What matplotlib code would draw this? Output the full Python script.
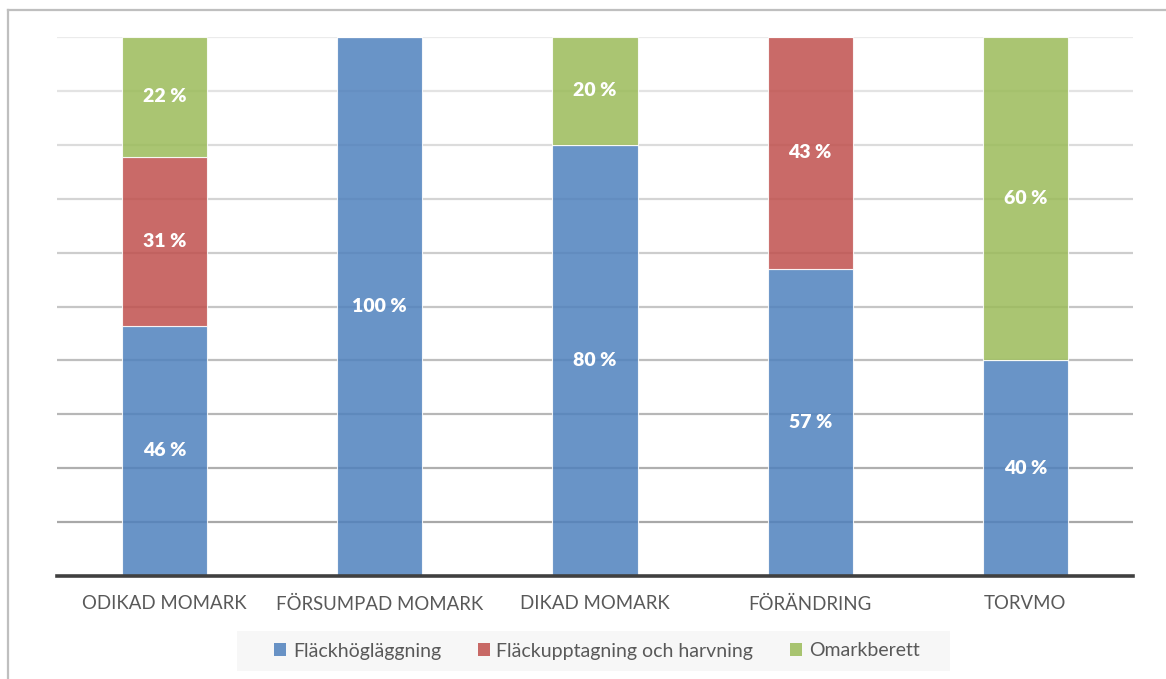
import numpy as np
import matplotlib.pyplot as plt
from matplotlib.patches import Patch, Rectangle
from matplotlib.lines import Line2D

plt.rcParams['font.family'] = ['Lato', 'DejaVu Sans']

# ---------------- data ----------------
categories = ["ODIKAD MOMARK", "FÖRSUMPAD MOMARK", "DIKAD MOMARK", "FÖRÄNDRING", "TORVMO"]
series_names = ["Fläckhögläggning", "Fläckupptagning och harvning", "Omarkberett"]
hoglaggning = [46.4, 100, 80, 57, 40]
upptagning = [31.4, 0, 0, 43, 0]
omarkberett = [22.2, 0, 20, 0, 60]
colors = ["#4F81BD", "#C0504D", "#9BBB59"]

W, H = 1166, 679

# ---------------- plot ----------------
fig = plt.figure(figsize=(W/100, H/100), dpi=100)
ax = fig.add_axes([57/W, 1 - 576/H, (1133 - 57)/W, (576 - 37)/H])

x = np.arange(len(categories))
width = 0.395

# gridlines get darker towards the bottom
levels = np.arange(10, 101, 10)
for lv in levels:
    g = 0.92 - (0.92 - 0.63) * (1 - lv/100)
    ax.axhline(lv, color=(g, g, g), lw=1.6, zorder=1)

bottom = np.zeros(len(categories))
for name, vals, col in zip(series_names, [hoglaggning, upptagning, omarkberett], colors):
    vals = np.array(vals, dtype=float)
    ax.bar(x, vals, width, bottom=bottom, color=col, alpha=0.85,
           edgecolor=(1, 1, 1, 0.6), linewidth=0.8, zorder=2)
    for xi, b, v in zip(x, bottom, vals):
        if v > 0:
            ax.text(xi, b + v/2, f"{v:.0f} %", ha="center", va="center",
                    color="white", fontsize=14, fontweight="heavy", zorder=3)
    bottom += vals

ax.set_xlim(-0.5, len(categories) - 0.5)
ax.set_ylim(0, 100)
ax.set_yticks([])
ax.set_xticks(x)
ax.set_xticklabels(categories, fontsize=13.4, color="#595959")
ax.tick_params(axis="x", length=0, pad=14)
for s in ["top", "right", "left"]:
    ax.spines[s].set_visible(False)
ax.spines["bottom"].set_color("#404040")
ax.spines["bottom"].set_linewidth(2.6)
ax.spines["bottom"].set_zorder(4)

# legend on a light grey panel
fig.add_artist(Rectangle((237/W, 1 - 671/H), (950 - 237)/W, 40/H,
                         transform=fig.transFigure, facecolor="#F7F7F7", edgecolor="none", zorder=0))
handles = [Patch(facecolor=c, alpha=0.85, edgecolor="none") for c in colors]
leg = fig.legend(handles, series_names, loc="center", bbox_to_anchor=(597/W, 1 - 651/H),
                 ncol=3, frameon=False, fontsize=14, handlelength=0.6, handleheight=0.6,
                 handletextpad=0.35, columnspacing=1.9)
for t in leg.get_texts():
    t.set_color("#595959")

# chart area border (top and left)
fig.add_artist(Line2D([8/W, 1], [1 - 10/H, 1 - 10/H], color="#BFBFBF", lw=1.6))
fig.add_artist(Line2D([8/W, 8/W], [0, 1 - 10/H], color="#BFBFBF", lw=1.6))

fig.savefig("out.png", dpi=100)
